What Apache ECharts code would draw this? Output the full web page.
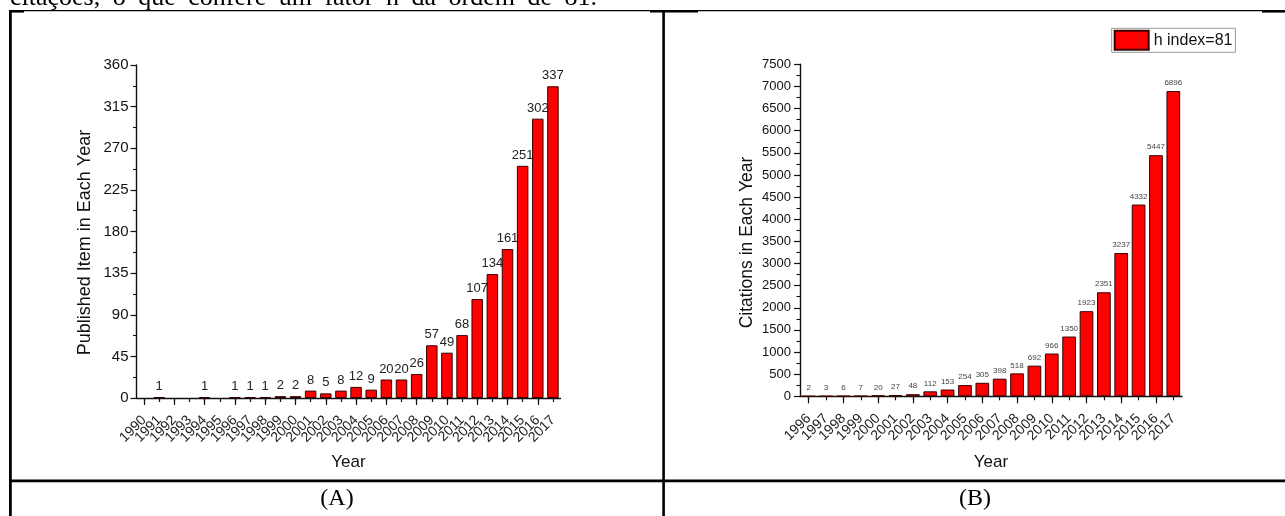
<!DOCTYPE html>
<html>
<head>
<meta charset="utf-8">
<script src="https://cdn.jsdelivr.net/npm/echarts@6/dist/echarts.min.js"></script>
<style>
  html, body { margin: 0; padding: 0; background: #fff; }
  #chart { width: 1285px; height: 516px; }
</style>
</head>
<body>
<div id="chart"></div>
<script>
// Panel (A): published items per year
const publishedYears = ['1990','1991','1992','1993','1994','1995','1996','1997','1998','1999',
  '2000','2001','2002','2003','2004','2005','2006','2007','2008','2009',
  '2010','2011','2012','2013','2014','2015','2016','2017'];
const publishedItems = [null, 1, null, null, 1, null, 1, 1, 1, 2,
  2, 8, 5, 8, 12, 9, 20, 20, 26, 57,
  49, 68, 107, 134, 161, 251, 302, 337];
const publishedTicks = [0, 45, 90, 135, 180, 225, 270, 315, 360];

// Panel (B): citations per year
const citationYears = ['1996','1997','1998','1999','2000','2001','2002','2003','2004','2005',
  '2006','2007','2008','2009','2010','2011','2012','2013','2014','2015','2016','2017'];
const citationCounts = [2, 3, 6, 7, 20, 27, 48, 112, 153, 254,
  305, 398, 518, 692, 966, 1350, 1923, 2351, 3237, 4332, 5447, 6896];
const citationTicks = [0, 500, 1000, 1500, 2000, 2500, 3000, 3500, 4000, 4500, 5000, 5500, 6000, 6500, 7000, 7500];

const legendName = 'h index=81';
const headerWords = ['citações,', 'o', 'que', 'confere', 'um', 'fator', 'h', 'da', 'ordem', 'de', '81.'];

const SANS = '"Liberation Sans", Arial, sans-serif';
const SERIF = '"Liberation Serif", "Times New Roman", serif';
const INK = '#111';

function yAxisFor(gridIndex, ticks, labelSize, margin) {
  return {
    type: 'value', gridIndex: gridIndex,
    min: ticks[0], max: ticks[ticks.length - 1], interval: ticks[1] - ticks[0],
    axisLine: { show: true, lineStyle: { color: INK, width: 1.4 } },
    axisTick: { show: true, length: 6, lineStyle: { color: INK, width: 1.2 } },
    minorTick: { show: true, splitNumber: 2, length: 3.5, lineStyle: { color: INK, width: 1.1 } },
    splitLine: { show: false },
    axisLabel: { fontFamily: SANS, fontSize: labelSize, color: INK, margin: margin,
      formatter: function (v) { return String(v); } }
  };
}

function xAxisFor(gridIndex, cats, nameGap) {
  return {
    type: 'category', gridIndex: gridIndex, data: cats, position: 'bottom',
    name: 'Year', nameLocation: 'middle', nameGap: nameGap,
    nameTextStyle: { fontFamily: SANS, fontSize: 17, color: INK },
    axisLine: { show: true, onZero: false, lineStyle: { color: INK, width: 1.4 } },
    axisTick: { show: true, interval: 0, alignWithLabel: true, length: 4, lineStyle: { color: INK, width: 1.2 } },
    axisLabel: { interval: 0, rotate: 45, fontFamily: SANS, fontSize: 14, color: '#222', margin: 20 },
    splitLine: { show: false }
  };
}

// overlay axis that draws the longer ticks on every second year
function majorTickAxis(gridIndex, cats) {
  return {
    type: 'category', gridIndex: gridIndex, data: cats, position: 'bottom',
    axisLine: { show: false },
    axisLabel: { show: false },
    axisTick: { show: true, alignWithLabel: true, length: 7,
      interval: function (i) { return i % 2 === 0; },
      lineStyle: { color: INK, width: 1.2 } },
    splitLine: { show: false }
  };
}

function barPair(name, xi, yi, data, width, labelSize, labelColor) {
  return [
    // value labels sit underneath the bars so taller neighbours overlap them
    {
      name: name + ' labels', type: 'bar', xAxisIndex: xi, yAxisIndex: yi, data: data,
      barWidth: width, barGap: '-100%', z: 1, silent: true,
      itemStyle: { color: 'rgba(0,0,0,0)', borderWidth: 0 },
      label: { show: true, position: 'top', distance: 4, fontFamily: SANS, fontSize: labelSize, color: labelColor }
    },
    {
      name: name, type: 'bar', xAxisIndex: xi, yAxisIndex: yi, data: data,
      barWidth: width, barGap: '-100%', z: 3,
      itemStyle: { color: '#ff0000', borderColor: '#3a0000', borderWidth: 1 }
    }
  ];
}

const chart = echarts.init(document.getElementById('chart'));

// header line, justified between the page margins
const HEADER_FONT = '26px ' + SERIF;
const measureCtx = document.createElement('canvas').getContext('2d');
measureCtx.font = HEADER_FONT;
const widths = headerWords.map(function (w) { return measureCtx.measureText(w).width; });
const total = widths.reduce(function (a, b) { return a + b; }, 0);
const lineStart = 10, lineEnd = 597;
const gap = (lineEnd - lineStart - total) / (headerWords.length - 1);
const headerGraphics = [];
let cursor = lineStart;
headerWords.forEach(function (w, i) {
  headerGraphics.push({
    type: 'text', x: cursor, y: -2, silent: true,
    style: { text: w, font: HEADER_FONT, fill: '#000', align: 'left', verticalAlign: 'middle' }
  });
  cursor += widths[i] + gap;
});

const frame = [
  { type: 'rect', shape: { x: 10, y: 10, width: 1275, height: 1.2 } },
  { type: 'rect', shape: { x: 10, y: 10, width: 14, height: 2.6 } },
  { type: 'rect', shape: { x: 650, y: 10, width: 48, height: 2.6 } },
  { type: 'rect', shape: { x: 1262, y: 10, width: 23, height: 2.6 } },
  { type: 'rect', shape: { x: 9, y: 10, width: 2.8, height: 506 } },
  { type: 'rect', shape: { x: 662.3, y: 10, width: 2.6, height: 506 } },
  { type: 'rect', shape: { x: 9, y: 479.5, width: 1276, height: 2.7 } }
].map(function (r) { r.silent = true; r.style = { fill: '#000' }; return r; });

const captions = [
  { type: 'text', x: 337, y: 499, silent: true,
    style: { text: '(A)', font: '24px ' + SERIF, fill: '#000', align: 'center', verticalAlign: 'middle' } },
  { type: 'text', x: 975, y: 499, silent: true,
    style: { text: '(B)', font: '24px ' + SERIF, fill: '#000', align: 'center', verticalAlign: 'middle' } },
  { type: 'text', x: 85.5, y: 242.5, rotation: Math.PI / 2, silent: true,
    style: { text: 'Published Item in Each Year', font: '18px ' + SANS, fill: INK, align: 'center', verticalAlign: 'middle' } },
  { type: 'text', x: 747.5, y: 242.5, rotation: Math.PI / 2, silent: true,
    style: { text: 'Citations in Each Year', font: '17.5px ' + SANS, fill: INK, align: 'center', verticalAlign: 'middle' } }
];

chart.setOption({
  animation: false,
  backgroundColor: '#fff',
  grid: [
    { left: 136.5, top: 65, width: 424, height: 333 },
    { left: 800, top: 64.3, width: 382, height: 332 }
  ],
  legend: {
    data: [legendName], left: 1111.7, top: 28.3, orient: 'horizontal',
    icon: 'rect', itemWidth: 34, itemHeight: 19, itemGap: 0,
    padding: [1.5, 3, 1.5, 2], borderColor: '#999', borderWidth: 1,
    selectedMode: false,
    textStyle: { fontFamily: SANS, fontSize: 16, color: INK }
  },
  xAxis: [
    xAxisFor(0, publishedYears, 56),
    majorTickAxis(0, publishedYears),
    xAxisFor(1, citationYears, 57.5),
    majorTickAxis(1, citationYears)
  ],
  yAxis: [
    yAxisFor(0, publishedTicks, 15, 8),
    yAxisFor(1, citationTicks, 13, 9)
  ],
  series: [].concat(
    barPair('Published Items', 0, 0, publishedItems, '76%', 13, '#222'),
    barPair(legendName, 2, 1, citationCounts, '79%', 8, '#444')
  ),
  graphic: { elements: frame.concat(headerGraphics, captions) }
});
</script>
</body>
</html>
